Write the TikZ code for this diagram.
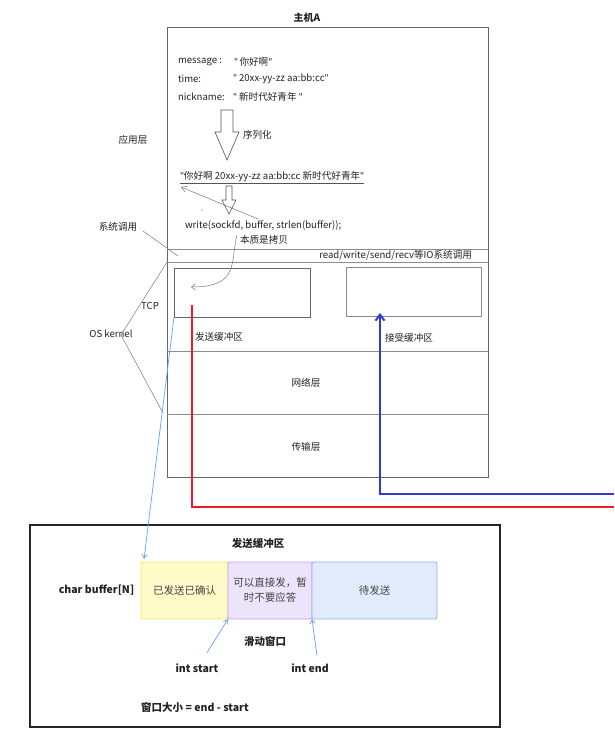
\documentclass[tikz,border=0pt]{standalone}
\usepackage{fontspec}
\setmainfont{Noto Sans CJK SC}
\newfontfamily\qfont{Noto Sans}
\newcommand\dq{{\qfont"}}
\usetikzlibrary{arrows.meta}
\definecolor{txt}{HTML}{222222}
\definecolor{gline}{HTML}{8C8C8C}
\definecolor{gdark}{HTML}{555555}
\definecolor{wred}{HTML}{ED1C24}
\definecolor{wblue}{HTML}{2E3BD3}
\definecolor{tblue}{HTML}{6B9BFF}
\definecolor{yfill}{HTML}{FFFBC9}
\definecolor{ydraw}{HTML}{F3E56C}
\definecolor{pfill}{HTML}{EDE4FB}
\definecolor{pdraw}{HTML}{C3A2F1}
\definecolor{bfill}{HTML}{E2EBFC}
\definecolor{bdraw}{HTML}{8FB2F7}
\begin{document}
\begin{tikzpicture}[x=1pt,y=-1pt,
  every node/.style={inner sep=0pt, outer sep=0pt, text=txt},
  lbl/.style={font=\fontsize{9.6}{11}\selectfont},
  blbl/.style={font=\fontsize{10.5}{13}\selectfont\bfseries},
  layer/.style={draw=gline, line width=0.8pt},
  hollow/.style={draw=gdark, fill=white, line width=0.6pt},
  thinlink/.style={draw=gdark!80, line width=0.5pt},
  bluelink/.style={draw=tblue, line width=0.7pt, -{Straight Barb[length=4pt,width=5pt]}},
  wire/.style={line width=2pt},
  seg/.style={draw, line width=0.8pt, rounded corners=2pt, minimum height=57pt,
    align=center, font=\fontsize{10.5}{15}\selectfont, text=txt!85},
]
\useasboundingbox (0,0) rectangle (614,746);

% ---------- Host A ----------
\node[font=\fontsize{10}{12}\selectfont\bfseries] (hostA) at (307,18) {主机A};
\draw[layer, draw=gdark!90] (167,27) rectangle (488,477);
\draw[layer] (167,249) -- (488,249);
\draw[layer] (167,262) -- (488,262);
\draw[layer] (167,351) -- (488,351);
\draw[layer] (167,414) -- (488,414);

% buffers in TCP
\node[draw=gdark!90, line width=0.7pt, minimum width=136pt, minimum height=49pt, anchor=north west] (sendbuf) at (174,268) {};
\node[draw=gline, line width=0.7pt, minimum width=135pt, minimum height=49pt, anchor=north west] (recvbuf) at (346,267) {};

% application layer texts
\node[lbl, anchor=west] (msgk) at (178,62) {message :};
\node[lbl, anchor=west] (msgv) at (234,62) {\dq\,你好啊\dq};
\node[lbl, anchor=west] (timek) at (178,79) {time:};
\node[lbl, anchor=west] (timev) at (233,79) {\dq\ 20xx-yy-zz aa:bb:cc\dq};
\node[lbl, anchor=west] (nickk) at (178,97) {nickname:};
\node[lbl, anchor=west] (nickv) at (233,97) {\dq\ 新时代好青年\ \dq};

% big hollow arrow
\draw[hollow] (221,110) -- (233,110) -- (233,132) -- (239,132) -- (227,160) -- (215,132) -- (221,132) -- cycle;
\node[lbl, anchor=west] (serlbl) at (243,135) {序列化};

\node[lbl, anchor=west] (ser) at (180,177) {\dq 你好啊 20xx-yy-zz aa:bb:cc 新时代好青年\dq};
\draw[gdark, line width=0.6pt] ([yshift=-1.5pt]ser.south west) -- ([yshift=-1.5pt]ser.south east);

% small hollow arrow
\draw[hollow] (226,186) -- (232,186) -- (232,200) -- (236,200) -- (229,214) -- (222,200) -- (226,200) -- cycle;
\fill[gdark] (202,210) circle (0.7);

\node[lbl, anchor=west] (write) at (185,226) {write(sockfd, buffer, strlen(buffer));};
\coordinate (wfrom) at (258,219);
\coordinate (wto) at (181,187);
\draw[thinlink, -{Straight Barb[length=5pt,width=6pt]}] (wfrom) -- (wto);

\node[lbl, anchor=west] (copy) at (240,240) {本质是拷贝};
\coordinate (cfrom) at (237,235);
\coordinate (cto) at (191,287);
\draw[thinlink, -{Straight Barb[length=4pt,width=6pt]}] (cfrom) .. controls (230,262) and (240,287) .. (cto);

\node[lbl, anchor=east] (band) at (472,255) {read/write/send/recv等IO系统调用};

\node[lbl] (sendlbl) at (219,337) {发送缓冲区};
\node[lbl] (recvlbl) at (409,338) {接受缓冲区};
\node[lbl] (netlbl) at (306,383) {网络层};
\node[lbl] (translbl) at (306,447) {传输层};

% left labels
\node[lbl] (app) at (133,140) {应用层};
\node[lbl] (sys) at (118,227) {系统调用};
\node[lbl] (tcp) at (150,306) {TCP};
\node[lbl] (os) at (111,334) {OS kernel};
\coordinate (sysend) at (178,256);
\coordinate (ostop) at (167,262);
\coordinate (osbot) at (163,413);
\coordinate (osfrom) at (121,335);
\draw[thinlink] (143,231) -- (sysend);
\draw[thinlink] (osfrom) -- (ostop);
\draw[thinlink] (osfrom) -- (osbot);

% wires
\coordinate (redstart) at (192,305);
\coordinate (redend) at (614,507);
\draw[wire, wred] (redstart) |- (redend);
\coordinate (bluestart) at (614,494);
\coordinate (blueend) at (380,313);
\draw[wire, wblue, -{Straight Barb[length=6pt,width=9pt,line width=2pt]}] (bluestart) -| (blueend);

% ---------- bottom box ----------
\draw[line width=1.8pt, black!85] (30,525) rectangle (500,727);
\node[blbl] (bt) at (258,544) {发送缓冲区};
\node[seg, fill=yfill, draw=ydraw, minimum width=87pt] (yellow) at (184.5,590.5) {已发送已确认};
\node[seg, fill=pfill, draw=pdraw, minimum width=84pt] (purple) at (270,590.5) {可以直接发，暂\\时不要应答};
\node[seg, fill=bfill, draw=bdraw, minimum width=125pt] (blue) at (374.5,590.5) {待发送};
\node[blbl] (cbuf) at (96.5,590) {char buffer[N]};
\node[blbl] (win) at (265,641) {滑动窗口};
\node[blbl] (istart) at (197,668) {int start};
\node[blbl] (iend) at (310,668) {int end};
\node[blbl] (wsize) at (195,707) {窗口大小 = end - start};

\draw[bluelink] (sendbuf.south west) -- ([shift={(3,-3)}]yellow.north west);
\draw[bluelink] ([shift={(10,-11)}]istart.north) -- (yellow.south east);
\draw[bluelink] ([shift={(7,-8)}]iend.north) -- (purple.south east);
\end{tikzpicture}
\end{document}
